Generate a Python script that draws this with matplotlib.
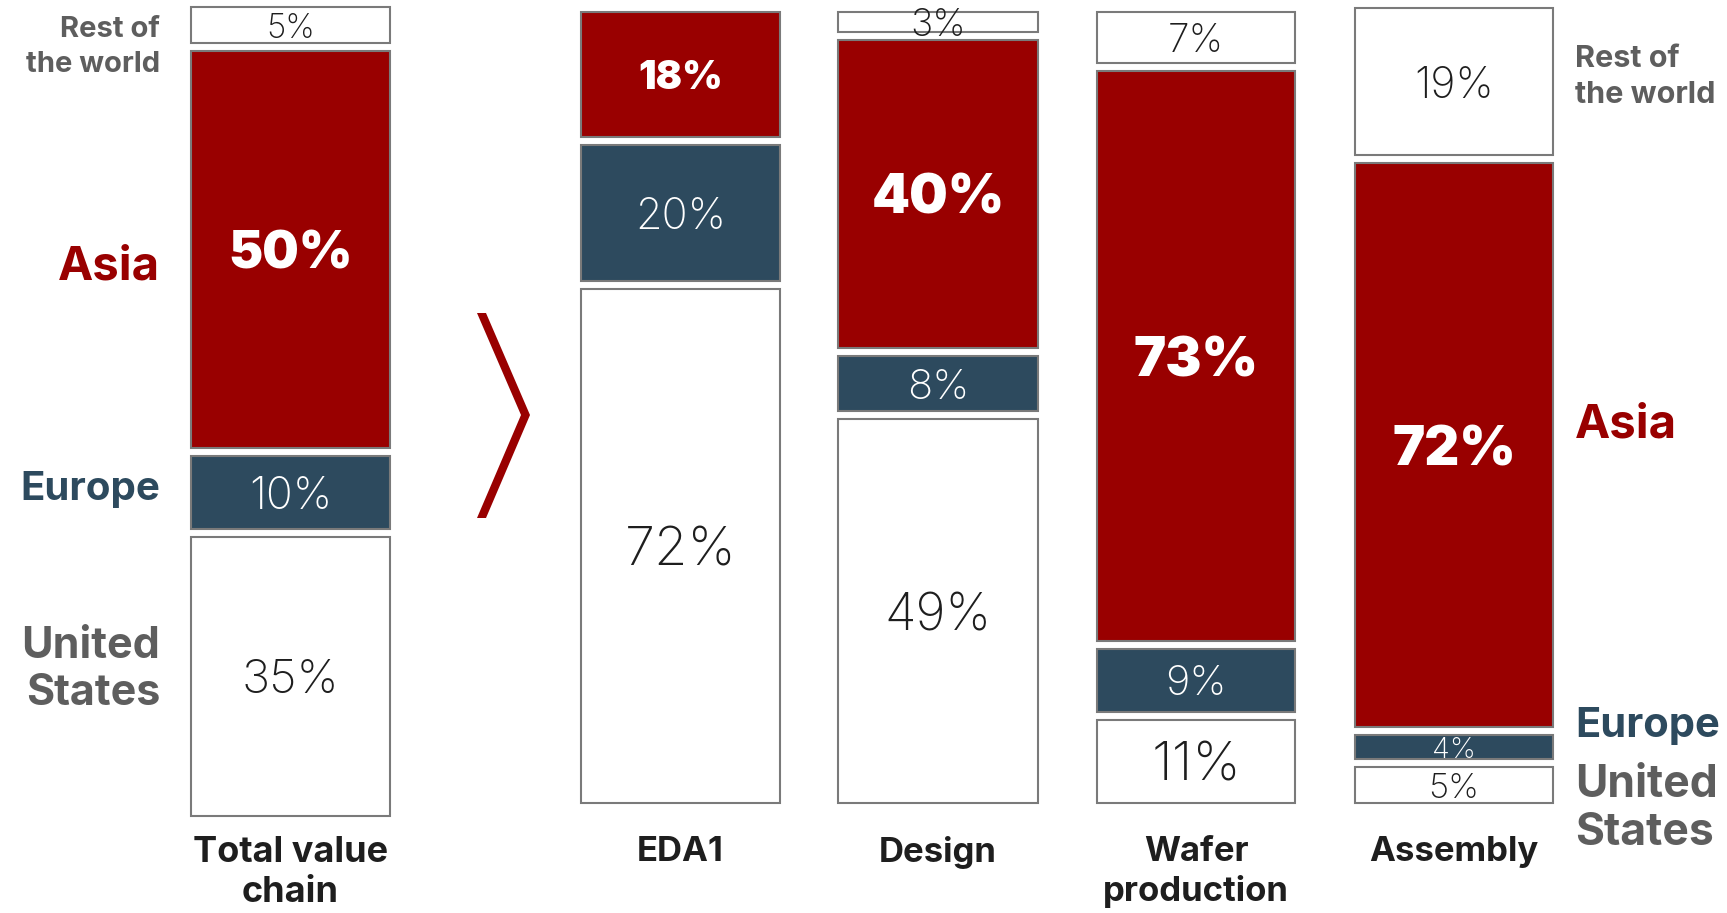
import matplotlib
matplotlib.use("Agg")
import matplotlib.pyplot as plt
from matplotlib.patches import Polygon

# shares of value added by region, stacked bottom -> top
columns = ['Total value\nchain', 'EDA1', 'Design', 'Wafer\nproduction', 'Assembly']
us = [35, 72, 49, 11, 5]
europe = [10, 20, 8, 9, 4]
asia = [50, 18, 40, 73, 72]
rest = [5, 0, 3, 7, 19]

RED = '#990000'
BLUE = '#2d4a5e'
GREY_TXT = '#5e5e5e'
DARK = '#1e1e1e'
EDGE = '#7a7a7a'

W, H = 1727, 913
plt.rcParams['font.family'] = ['Inter', 'DejaVu Sans']
fig = plt.figure(figsize=(W / 100, H / 100), dpi=100)

# bar boxes in pixels: left, right, top, bottom
boxes = [(191, 390, 7, 816),
         (581, 780, 12, 803),
         (838, 1038, 12, 803),
         (1097, 1295, 12, 803),
         (1355, 1553, 8, 803)]

# label sizes per column, bottom -> top
sizes = [[34, 32, 37, 24],
         [39, 31, 28, 28],
         [37, 30, 39, 27],
         [39, 30, 39, 28],
         [25, 21, 39, 31]]

fills = ['white', BLUE, RED, 'white']
txt_col = [DARK, 'white', 'white', DARK]
weights = ['light', 'light', 'black', 'light']
gap_px = 8

for i, name in enumerate(columns):
    l, r, t, b = boxes[i]
    ax = fig.add_axes([l / W, 1 - b / H, (r - l) / W, (b - t) / H])
    vals = [us[i], europe[i], asia[i], rest[i]]
    segs = [(v, k) for k, v in enumerate(vals) if v > 0]
    total = sum(vals)
    ax.set_xlim(-0.5, 0.5)
    ax.set_ylim(0, total)
    ax.axis('off')
    g = gap_px * total / (b - t)
    cum = 0
    for j, (v, k) in enumerate(segs):
        y0 = cum + (g / 2 if j > 0 else 0)
        y1 = cum + v - (g / 2 if j < len(segs) - 1 else 0)
        ax.bar(0, y1 - y0, bottom=y0, width=1.0, color=fills[k],
               edgecolor=EDGE, linewidth=1.5, clip_on=False)
        ax.text(0, (y0 + y1) / 2, f'{v}%', ha='center', va='center_baseline',
                fontsize=sizes[i][k], color=txt_col[k], fontweight=weights[k],
                clip_on=False)
        cum += v
    fig.text((l + r) / 2 / W, 1 - 836 / H, name, ha='center', va='top',
             fontsize=26 if i == 0 else 25, fontweight='bold', color=DARK,
             linespacing=1.25)

# region names at the left of the total bar
left_lbl = [('Rest of\nthe world', 47, 21, GREY_TXT, 1.4),
            ('Asia', 267, 34, RED, 1.0),
            ('Europe', 489, 29, BLUE, 1.0),
            ('United\nStates', 670, 31, GREY_TXT, 1.2)]
for txt, y, fs, c, ls in left_lbl:
    fig.text(160 / W, 1 - y / H, txt, ha='right', va='center', fontsize=fs,
             fontweight='bold', color=c, linespacing=ls)

# and at the right of the assembly bar
right_lbl = [('Rest of\nthe world', 77, 22, GREY_TXT, 1.4),
             ('Asia', 425, 34, RED, 1.0),
             ('Europe', 726, 30, BLUE, 1.0),
             ('United\nStates', 809, 32, GREY_TXT, 1.2)]
for txt, y, fs, c, ls in right_lbl:
    fig.text(1575 / W, 1 - y / H, txt, ha='left', va='center', fontsize=fs,
             fontweight='bold', color=c, linespacing=ls)

# chevron between the total and the breakdown
pts = [(477, 313), (486, 313), (530, 415), (486, 518), (477, 518), (521, 415)]
fig.add_artist(Polygon([(x / W, 1 - y / H) for x, y in pts], closed=True,
                       transform=fig.transFigure, color=RED, lw=0))

fig.savefig('out.png', dpi=100, facecolor='white')
